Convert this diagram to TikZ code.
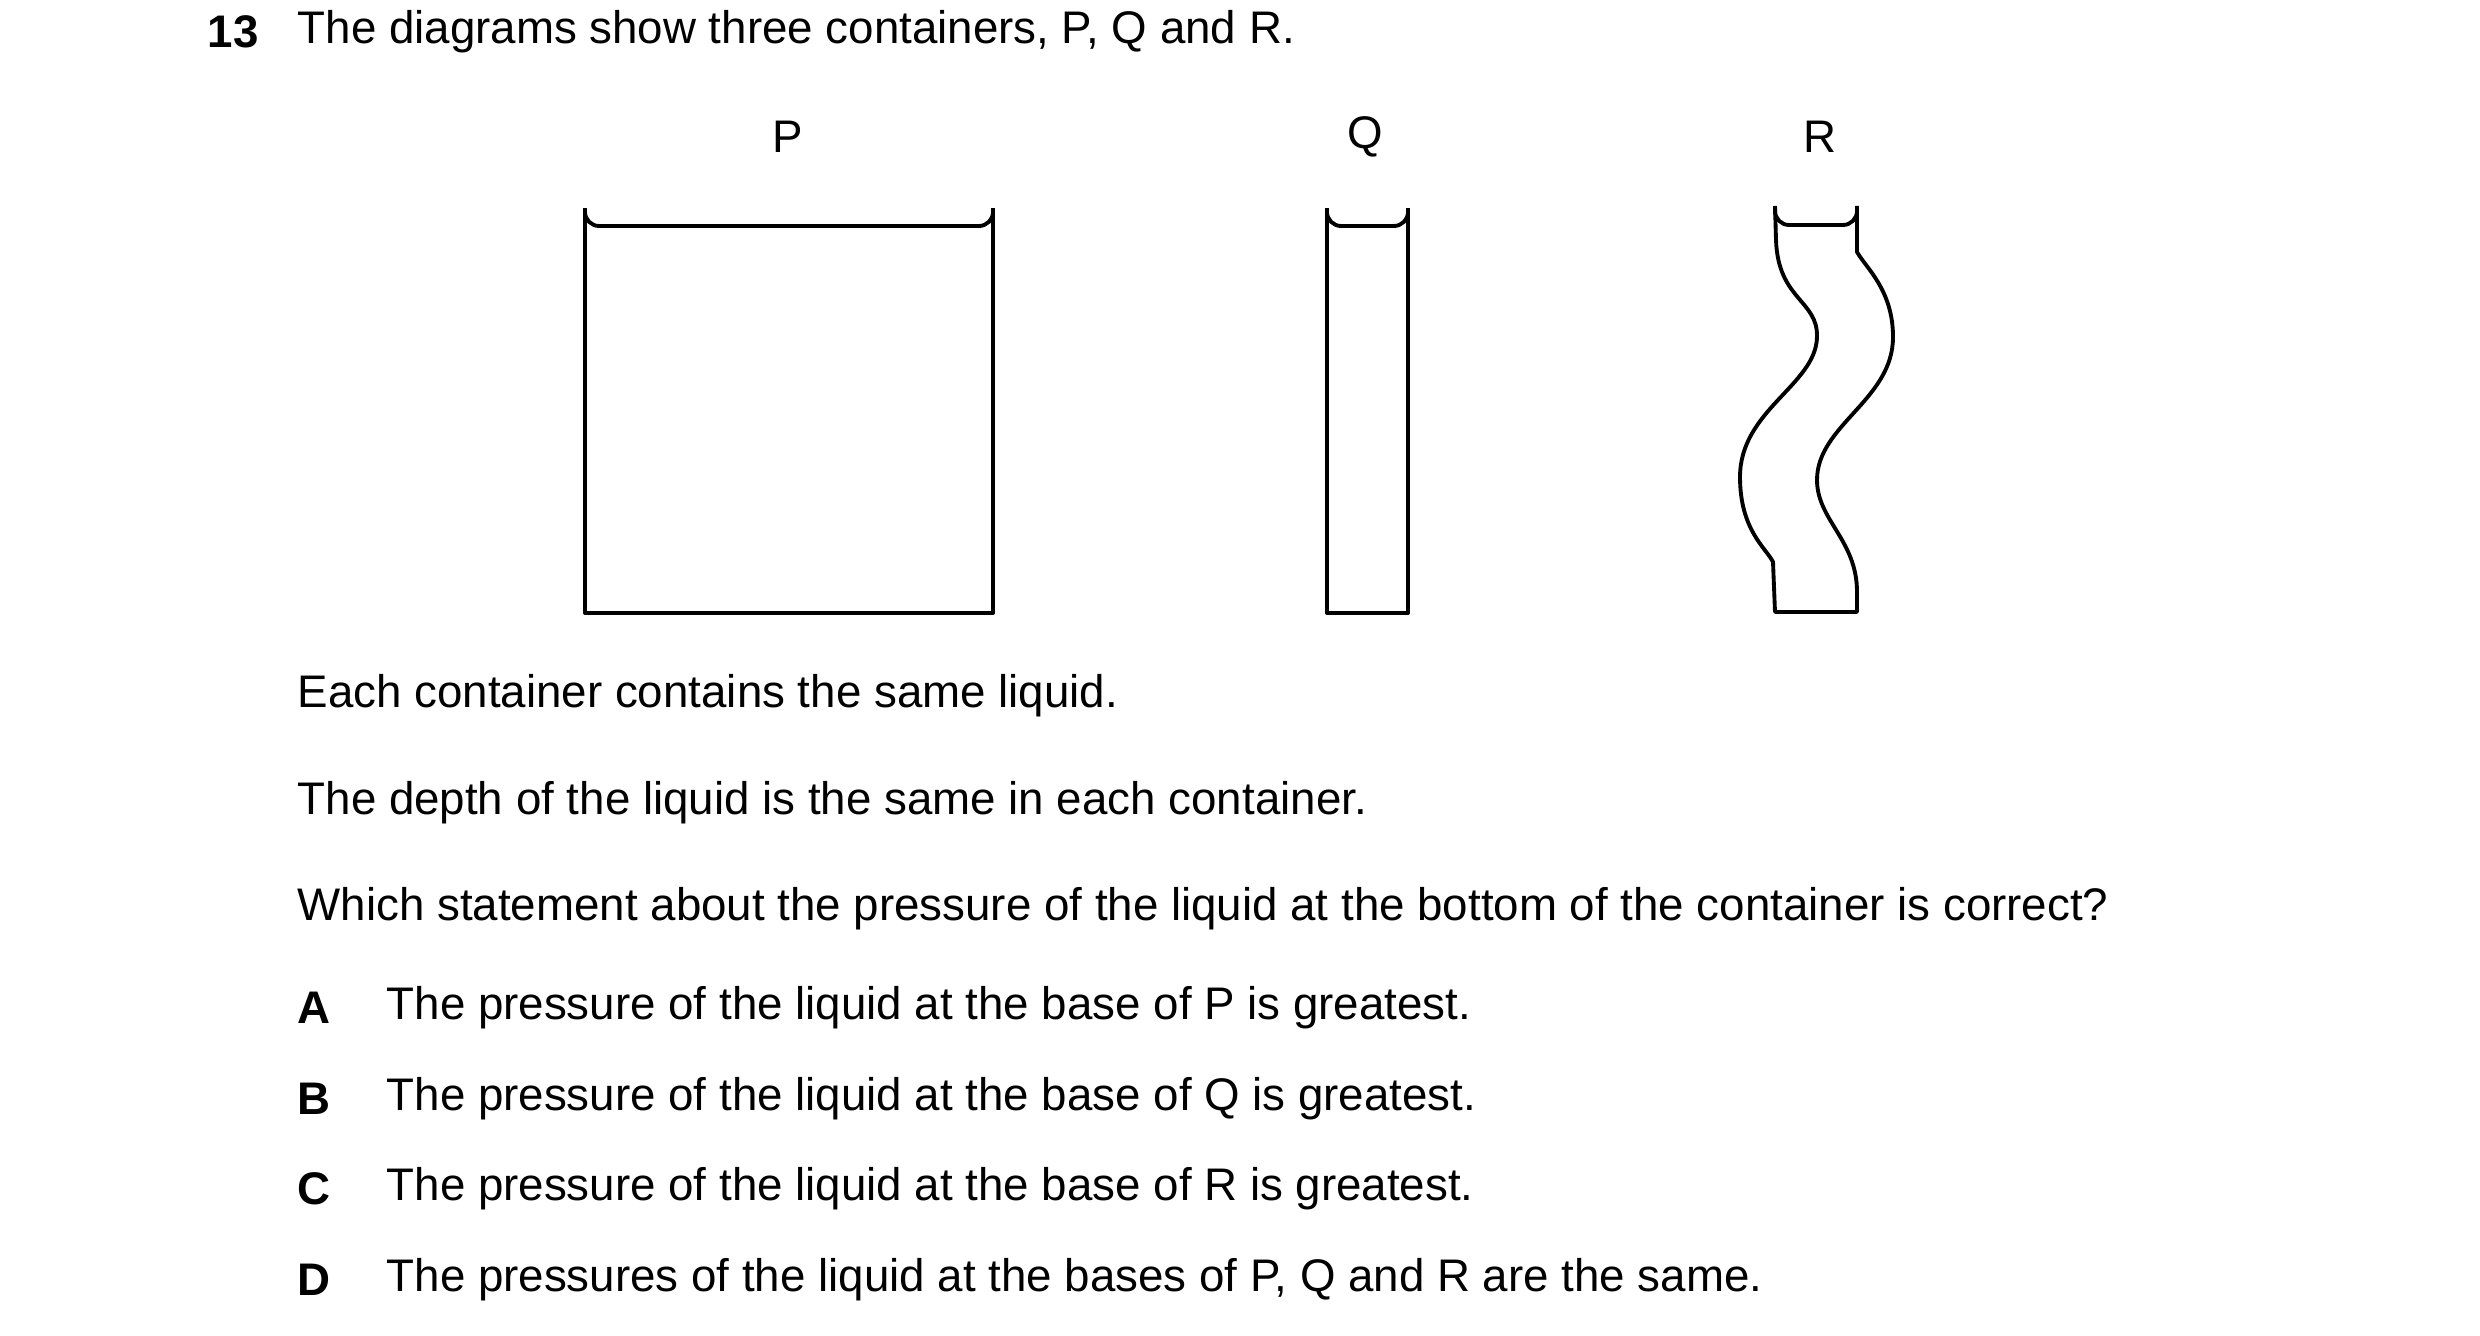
\documentclass[tikz,border=0pt]{standalone}
\usepackage{fontspec}
\setmainfont{Liberation Sans}
\usetikzlibrary{positioning}
\begin{document}
\begin{tikzpicture}[
    x=0.1mm, y=-0.1mm,
    wall/.style={line width=1.1pt, line join=round},
    surface/.style={line width=1.1pt, rounded corners=4},
    txt/.style={anchor=west, inner sep=0pt, font=\fontsize{13pt}{15pt}\selectfont},
    lbl/.style={inner sep=0pt, font=\fontsize{13pt}{15pt}\selectfont},
    every node/.style={color=black}
    ]
    \useasboundingbox (0,0) rectangle (2480,1336);

    % question
    \node[txt] (num) at (207,32) {\textbf{13}};
    \node[txt] (intro) at (297,32) {The diagrams show three containers, P, Q and R.};

    % labels
    \node[lbl] (lP) at (788,137) {P};
    \node[lbl] (lQ) at (1365,137) {Q};
    \node[lbl] (lR) at (1820,137) {R};

    % container P
    \draw[wall] (585,208) -- (585,613) -- (993,613) -- (993,208);
    \draw[surface] (585,214) -- (585,226) -- (993,226) -- (993,214);

    % container Q
    \draw[wall] (1327,208) -- (1327,613) -- (1408,613) -- (1408,208);
    \draw[surface] (1327,214) -- (1327,226) -- (1408,226) -- (1408,214);

    % container R
    \draw[wall] (1775,206) -- (1776,240)
        .. controls (1778,300) and (1818,300) .. (1817,337)
        .. controls (1816,385) and (1740,410) .. (1740,477)
        .. controls (1740,530) and (1766,548) .. (1773,562)
        -- (1775,612) -- (1857,612) -- (1857,592)
        .. controls (1857,540) and (1817,520) .. (1817,480)
        .. controls (1817,425) and (1893,400) .. (1893,337)
        .. controls (1893,290) and (1866,268) .. (1857,252)
        -- (1857,206);
    \draw[surface] (1775,214) -- (1775,225) -- (1857,225) -- (1857,214);

    % statements
    \node[txt] (s1) at (297,696) {Each container contains the same liquid.};
    \node[txt] (s2) at (297,803) {The depth of the liquid is the same in each container.};
    \node[txt] (s3) at (297,909) {Which statement about the pressure of the liquid at the bottom of the container is correct?};

    % options
    \node[txt] (kA) at (297,1008) {\textbf{A}};
    \node[txt] (oA) at (386,1008) {The pressure of the liquid at the base of P is greatest.};
    \node[txt] (kB) at (297,1099) {\textbf{B}};
    \node[txt] (oB) at (386,1099) {The pressure of the liquid at the base of Q is greatest.};
    \node[txt] (kC) at (297,1189) {\textbf{C}};
    \node[txt] (oC) at (386,1189) {The pressure of the liquid at the base of R is greatest.};
    \node[txt] (kD) at (297,1280) {\textbf{D}};
    \node[txt] (oD) at (386,1280) {The pressures of the liquid at the bases of P, Q and R are the same.};
\end{tikzpicture}
\end{document}
